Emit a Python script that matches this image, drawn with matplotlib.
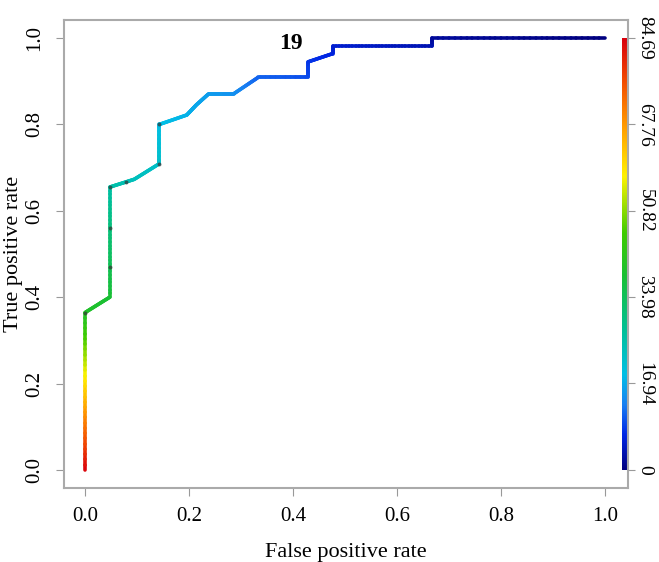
import numpy as np
import matplotlib
matplotlib.use("Agg")
import matplotlib.pyplot as plt
from matplotlib.collections import LineCollection
from matplotlib.colors import LinearSegmentedColormap

# ROC curve vertices
fpr = [0.0, 0.0, 0.048, 0.048, 0.095, 0.143, 0.143, 0.196, 0.214, 0.238, 0.286,
       0.333, 0.429, 0.429, 0.476, 0.476, 0.667, 0.667, 1.0]
tpr = [0.0, 0.364, 0.40, 0.655, 0.673, 0.709, 0.80, 0.822, 0.845, 0.871, 0.871,
       0.909, 0.909, 0.945, 0.964, 0.982, 0.982, 1.0, 1.0]
# cutoff value at each vertex (colour scale units)
cutoff = [84.69, 40.0, 38.0, 26.0, 23.5, 22.0, 19.0, 17.5, 16.5, 15.5, 14.5,
          11.0, 9.5, 8.0, 6.5, 5.5, 3.5, 2.0, 0.0]
# small dark marks on the curve
mark_x = [0.0, 0.048, 0.048, 0.048, 0.08, 0.143, 0.143]
mark_y = [0.364, 0.47, 0.56, 0.655, 0.667, 0.709, 0.80]

cbar_ticks = [0, 16.94, 33.98, 50.82, 67.76, 84.69]
cbar_labels = ["0", "16.94", "33.98", "50.82", "67.76", "84.69"]
cmax = 84.69

plt.rcParams["font.family"] = ["Liberation Serif", "DejaVu Serif"]

cmap = LinearSegmentedColormap.from_list("roc", [
    (0.00, (0.0, 0.0, 0.5)),
    (0.08, (0.0, 0.15, 0.9)),
    (0.15, (0.1, 0.5, 0.95)),
    (0.22, (0.0, 0.75, 0.9)),
    (0.32, (0.0, 0.75, 0.6)),
    (0.45, (0.1, 0.75, 0.2)),
    (0.55, (0.25, 0.8, 0.0)),
    (0.68, (1.0, 0.95, 0.0)),
    (0.80, (1.0, 0.6, 0.0)),
    (0.90, (0.95, 0.3, 0.0)),
    (1.00, (0.85, 0.0, 0.05)),
])

fig = plt.figure(figsize=(6.59, 5.62), dpi=100)
ax = fig.add_axes([0.0971, 0.1317, 0.856, 0.8327])

# split each segment into small pieces so the colour changes along it
segs, vals = [], []
for i in range(len(fpr) - 1):
    n = 30
    xs = np.linspace(fpr[i], fpr[i + 1], n + 1)
    ys = np.linspace(tpr[i], tpr[i + 1], n + 1)
    cs = np.linspace(cutoff[i], cutoff[i + 1], n + 1)
    for j in range(n):
        segs.append([(xs[j], ys[j]), (xs[j + 1], ys[j + 1])])
        vals.append((cs[j] + cs[j + 1]) / 2)
lc = LineCollection(segs, cmap=cmap, linewidths=2.6, capstyle="round")
lc.set_array(np.array(vals))
lc.set_clim(0, cmax)
ax.add_collection(lc)
ax.scatter(mark_x, mark_y, s=8, color="#333333", alpha=0.7, zorder=3, linewidths=0)

ax.text(0.397, 0.988, "19", fontsize=17, fontweight="bold", ha="center", va="center")

# colour bar drawn inside the box on the right
grad = np.linspace(0, 1, 256).reshape(-1, 1)
ax.imshow(grad, cmap=cmap, origin="lower", aspect="auto",
          extent=[1.032, 1.041, 0, 1], zorder=2)

ax.set_xlim(-0.04, 1.044)
ax.set_ylim(-0.042, 1.042)
ax.set_xticks([0.0, 0.2, 0.4, 0.6, 0.8, 1.0])
ax.set_xticklabels(["0.0", "0.2", "0.4", "0.6", "0.8", "1.0"])
ax.set_yticks([0.0, 0.2, 0.4, 0.6, 0.8, 1.0])
ax.set_yticklabels(["0.0", "0.2", "0.4", "0.6", "0.8", "1.0"], rotation=90, va="center")
ax.tick_params(labelsize=15, color="#999999", length=6, pad=8)
ax.set_xlabel("False positive rate", fontsize=16, labelpad=12)
ax.set_ylabel("True positive rate", fontsize=16, labelpad=2)
for s in ax.spines.values():
    s.set_color("#aaaaaa")
    s.set_linewidth(1.5)

ax2 = ax.twinx()
ax2.set_ylim(-0.042 * cmax, 1.042 * cmax)
ax2.set_yticks(cbar_ticks)
ax2.set_yticklabels(cbar_labels, rotation=270, va="center")
ax2.tick_params(labelsize=14, color="#999999", length=5, pad=1)
for s in ax2.spines.values():
    s.set_visible(False)

fig.savefig("out.png", dpi=100)
